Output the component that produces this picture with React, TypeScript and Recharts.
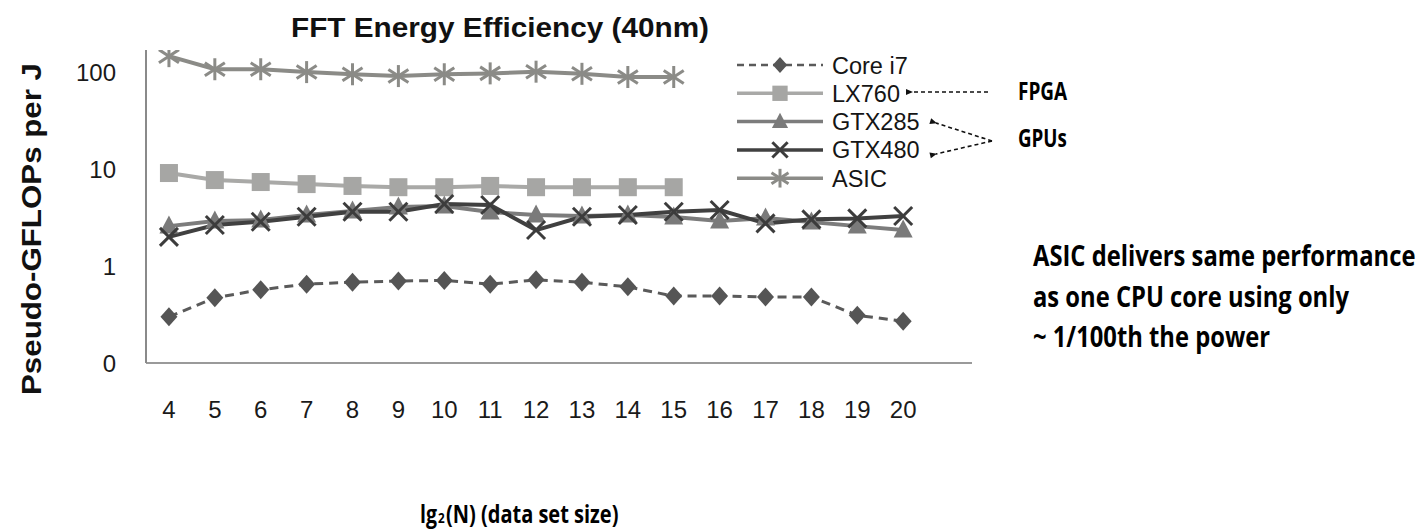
import React from "react";
import { LineChart, Line, XAxis, YAxis, Legend } from "recharts";

if (typeof document !== "undefined") {
  document.body.style.margin = "0";
}

// lg2(N) data set sizes
const sizes = [4, 5, 6, 7, 8, 9, 10, 11, 12, 13, 14, 15, 16, 17, 18, 19, 20];
const yTicks = [0.1, 1, 10, 100];

// Pseudo-GFLOPs per J
const coreI7 = [0.3, 0.47, 0.57, 0.65, 0.68, 0.7, 0.71, 0.65, 0.72, 0.68, 0.61, 0.49, 0.49, 0.48, 0.48, 0.31, 0.27];
const lx760 = [9.1, 7.7, 7.35, 7.0, 6.7, 6.5, 6.5, 6.7, 6.5, 6.5, 6.5, 6.5];
const gtx285 = [2.58, 2.91, 2.98, 3.36, 3.69, 4.06, 4.16, 3.6, 3.36, 3.28, 3.36, 3.2, 2.91, 3.12, 2.84, 2.58, 2.35];
const gtx480 = [2.0, 2.65, 2.86, 3.22, 3.63, 3.63, 4.36, 4.26, 2.35, 3.22, 3.36, 3.63, 3.78, 2.75, 3.03, 3.1, 3.28];
const asic = [146, 107, 107, 100, 95, 91, 95, 97, 101, 96, 89, 89];

const data = sizes.map((n, i) => ({
  n,
  coreI7: coreI7[i] ?? null,
  lx760: lx760[i] ?? null,
  gtx285: gtx285[i] ?? null,
  gtx480: gtx480[i] ?? null,
  asic: asic[i] ?? null,
}));

type Shape = "diamond" | "square" | "triangle" | "x" | "asterisk";

const series: { key: string; name: string; color: string; fill: string; width: number; dash?: string; shape: Shape }[] = [
  { key: "coreI7", name: "Core i7", color: "#5a5a5a", fill: "#555555", width: 3, dash: "9 6", shape: "diamond" },
  { key: "lx760", name: "LX760", color: "#a9a9a7", fill: "#a6a6a4", width: 4, shape: "square" },
  { key: "gtx285", name: "GTX285", color: "#7c7c7c", fill: "#7a7a7a", width: 4, shape: "triangle" },
  { key: "gtx480", name: "GTX480", color: "#404040", fill: "#3c3c3c", width: 4, shape: "x" },
  { key: "asic", name: "ASIC", color: "#8b8b87", fill: "#8b8b87", width: 4, shape: "asterisk" },
];

function MarkerShape({ cx, cy, shape, fill, scale = 1 }: { cx: number; cy: number; shape: Shape; fill: string; scale?: number }) {
  const s = scale;
  switch (shape) {
    case "diamond":
      return <polygon points={`${cx},${cy - 9.5 * s} ${cx + 8.5 * s},${cy} ${cx},${cy + 9.5 * s} ${cx - 8.5 * s},${cy}`} fill={fill} />;
    case "square":
      return <rect x={cx - 9 * s} y={cy - 9 * s} width={18 * s} height={18 * s} fill={fill} />;
    case "triangle":
      return <polygon points={`${cx},${cy - 10.5 * s} ${cx + 9.5 * s},${cy + 7.5 * s} ${cx - 9.5 * s},${cy + 7.5 * s}`} fill={fill} />;
    case "x":
      return (
        <g stroke={fill} strokeWidth={3}>
          <line x1={cx - 9 * s} y1={cy - 9 * s} x2={cx + 9 * s} y2={cy + 9 * s} />
          <line x1={cx - 9 * s} y1={cy + 9 * s} x2={cx + 9 * s} y2={cy - 9 * s} />
        </g>
      );
    case "asterisk":
      return (
        <g stroke={fill} strokeWidth={3}>
          <line x1={cx} y1={cy - 11 * s} x2={cx} y2={cy + 11 * s} />
          <line x1={cx - 10 * s} y1={cy - 6.5 * s} x2={cx + 10 * s} y2={cy + 6.5 * s} />
          <line x1={cx - 10 * s} y1={cy + 6.5 * s} x2={cx + 10 * s} y2={cy - 6.5 * s} />
        </g>
      );
  }
  return null;
}

const makeDot = (shape: Shape, fill: string) => (props: any) => {
  const { cx, cy, index } = props;
  if (cx == null || cy == null || props.value == null || (Array.isArray(props.value) && props.value[1] == null)) {
    return <g key={`d-${shape}-${index}`} />;
  }
  return (
    <g key={`d-${shape}-${index}`}>
      <MarkerShape cx={cx} cy={cy} shape={shape} fill={fill} />
    </g>
  );
};

const LegendContent = () => (
  <svg width={240} height={150} style={{ overflow: "visible" }}>
    {series.map((s, i) => {
      const y = 13 + i * 28.3;
      return (
        <g key={s.key}>
          <line x1={0} y1={y} x2={86} y2={y} stroke={s.color} strokeWidth={s.width - 0.5} strokeDasharray={s.dash ? "7 5" : undefined} />
          <MarkerShape cx={43} cy={y} shape={s.shape} fill={s.fill} scale={0.85} />
          <text x={95} y={y + 8.5} fontFamily="'Liberation Sans', Arial, sans-serif" fontSize={23.5} fill="#151515">
            {s.name}
          </text>
        </g>
      );
    })}
  </svg>
);

const condensed = "'Open Sans', 'DejaVu Sans Condensed', sans-serif";
const sans = "'Liberation Sans', Arial, sans-serif";

function CondText({ x, y, size, children, sx = 0.75 }: { x: number; y: number; size: number; children: React.ReactNode; sx?: number }) {
  return (
    <g transform={`translate(${x},${y}) scale(${sx},1)`}>
      <text x={0} y={0} fontFamily={condensed} fontWeight="bold" fontSize={size} fill="#000">
        {children}
      </text>
    </g>
  );
}

export default function App() {
  return (
    <div style={{ position: "relative", width: 1421, height: 530, background: "#ffffff" }}>
      <LineChart width={1421} height={530} data={data} margin={{ top: 50, right: 449, bottom: 137, left: 0 }}>
        <XAxis
          dataKey="n"
          type="number"
          domain={[3.5, 21.5]}
          ticks={sizes}
          interval={0}
          allowDataOverflow
          axisLine={{ stroke: "#9a9a9a", strokeWidth: 2 }}
          tickLine={false}
          tickSize={0}
          tickMargin={38}
          height={30}
          tick={{ fontFamily: sans, fontSize: 24, fill: "#1a1a1a" }}
        />
        <YAxis
          type="number"
          scale="log"
          domain={[0.1, 169]}
          allowDataOverflow
          ticks={yTicks}
          interval={0}
          width={146}
          axisLine={{ stroke: "#8a8a8a", strokeWidth: 2 }}
          tickLine={false}
          tickSize={0}
          tickMargin={30}
          tickFormatter={(v: number) => (v === 0.1 ? "0" : String(v))}
          tick={{ fontFamily: sans, fontSize: 24, fill: "#1a1a1a" }}
        />
        <Legend
          layout="vertical"
          align="center"
          verticalAlign="middle"
          content={() => <LegendContent />}
          wrapperStyle={{ left: 737, top: 52, width: 240, height: 150 }}
        />
        {series.map((s) => (
          <Line
            key={s.key}
            dataKey={s.key}
            name={s.name}
            type="linear"
            stroke={s.color}
            strokeWidth={s.width}
            strokeDasharray={s.dash}
            dot={makeDot(s.shape, s.fill)}
            activeDot={false}
            connectNulls={false}
            isAnimationActive={false}
          />
        ))}
      </LineChart>
      <svg width={1421} height={530} style={{ position: "absolute", left: 0, top: 0, pointerEvents: "none" }}>
        <defs>
          <marker id="ah" markerWidth={8} markerHeight={8} refX={1} refY={4} orient="auto" markerUnits="userSpaceOnUse">
            <path d="M0,4 L7,1 L7,7 Z" fill="#111" />
          </marker>
        </defs>
        <text x={291} y={37} fontFamily={sans} fontWeight="bold" fontSize={28} fill="#111" textLength={418} lengthAdjust="spacingAndGlyphs">
          FFT Energy Efficiency (40nm)
        </text>
        <text
          transform="translate(41,395) rotate(-90)"
          x={0}
          y={0}
          fontFamily={sans}
          fontWeight="bold"
          fontSize={27}
          fill="#111"
          textLength={332}
          lengthAdjust="spacingAndGlyphs"
        >
          Pseudo-GFLOPs per J
        </text>
        <line x1={988} y1={92} x2={912} y2={92} stroke="#111" strokeWidth={1.6} strokeDasharray="4 3" markerEnd="url(#ah)" />
        <line x1={992} y1={141} x2={936} y2={123} stroke="#111" strokeWidth={1.6} strokeDasharray="4 3" markerEnd="url(#ah)" />
        <line x1={992} y1={141} x2={936} y2={154} stroke="#111" strokeWidth={1.6} strokeDasharray="4 3" markerEnd="url(#ah)" />
        <CondText x={1018} y={100} size={25} sx={0.76}>FPGA</CondText>
        <CondText x={1018} y={147} size={25} sx={0.75}>GPUs</CondText>
        <CondText x={1033} y={266} size={29} sx={0.82}>ASIC delivers same performance</CondText>
        <CondText x={1033} y={307} size={29} sx={0.82}>as one CPU core using only</CondText>
        <CondText x={1033} y={347} size={29} sx={0.82}>~ 1/100th the power</CondText>
        <CondText x={420} y={523} size={25} sx={0.78}>lg</CondText>
        <CondText x={438} y={523} size={15} sx={0.78}>2</CondText>
        <CondText x={446} y={523} size={25} sx={0.8}>(N)  (data set size)</CondText>
      </svg>
    </div>
  );
}
